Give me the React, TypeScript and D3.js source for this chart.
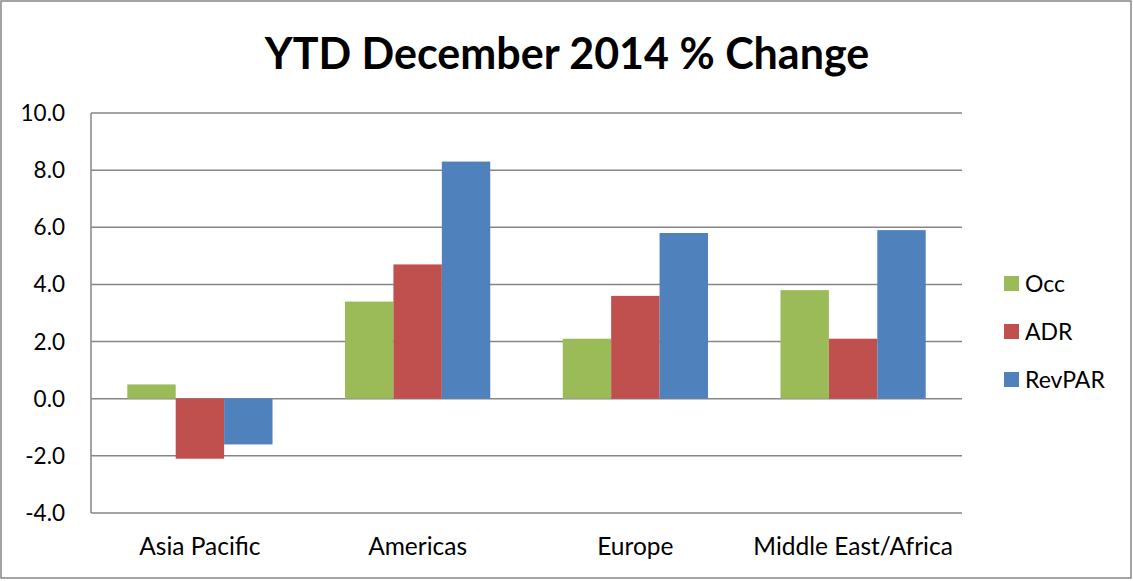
import React from "react";
import * as d3 from "d3";

const regions = ["Asia Pacific", "Americas", "Europe", "Middle East/Africa"];
const seriesNames = ["Occ", "ADR", "RevPAR"];
const occ = [0.5, 3.4, 2.1, 3.8];
const adr = [-2.1, 4.7, 3.6, 2.1];
const revpar = [-1.6, 8.3, 5.8, 5.9];
const yTicks = [-4, -2, 0, 2, 4, 6, 8, 10];
const colors = ["#9BBB59", "#C0504D", "#4F81BD"];

export default function App() {
  const width = 1133;
  const height = 581;
  const left = 91;
  const right = 962;
  const top = 113;
  const bottom = 513;
  const font = "Lato, 'Open Sans', sans-serif";

  const values = [occ, adr, revpar];

  const x = d3.scaleBand<string>().domain(regions).range([left, right]).paddingInner(0.333).paddingOuter(0.1667);
  const x1 = d3.scaleBand<string>().domain(seriesNames).range([0, x.bandwidth()]);
  const y = d3.scaleLinear().domain([-4, 10]).range([bottom, top]);

  return (
    <svg width={width} height={height} style={{ position: "absolute", left: 0, top: 0, background: "#fff" }}>
      <rect x={1} y={1} width={width - 3} height={height - 4} fill="#fff" stroke="#868686" strokeWidth={1.5} />
      <text x={567} y={69} textAnchor="middle" fontFamily={font} fontWeight="bold" fontSize={43} fill="#000">
        YTD December 2014 % Change
      </text>
      {yTicks.map((t) => (
        <g key={t}>
          <line x1={left} x2={right} y1={y(t)} y2={y(t)} stroke="#868686" strokeWidth={1.5} />
          <text x={65} y={y(t) + 8} textAnchor="end" fontFamily={font} fontSize={22.5} fill="#000">
            {t.toFixed(1)}
          </text>
        </g>
      ))}
      <line x1={left} x2={left} y1={top} y2={bottom} stroke="#868686" strokeWidth={1.5} />
      {regions.map((r, i) => (
        <g key={r} transform={`translate(${x(r)},0)`}>
          {seriesNames.map((s, j) => {
            const v = values[j][i];
            return (
              <rect
                key={s}
                x={x1(s)}
                width={x1.bandwidth()}
                y={y(Math.max(0, v))}
                height={Math.abs(y(v) - y(0))}
                fill={colors[j]}
              />
            );
          })}
          <text x={x.bandwidth() / 2} y={555} textAnchor="middle" fontFamily={font} fontSize={24.5} fill="#000">
            {r}
          </text>
        </g>
      ))}
      {seriesNames.map((s, j) => (
        <g key={s} transform={`translate(1004,${276 + j * 48})`}>
          <rect width={15} height={15} fill={colors[j]} />
          <text x={21} y={16} fontFamily={font} fontSize={23} fill="#000">
            {s}
          </text>
        </g>
      ))}
    </svg>
  );
}
